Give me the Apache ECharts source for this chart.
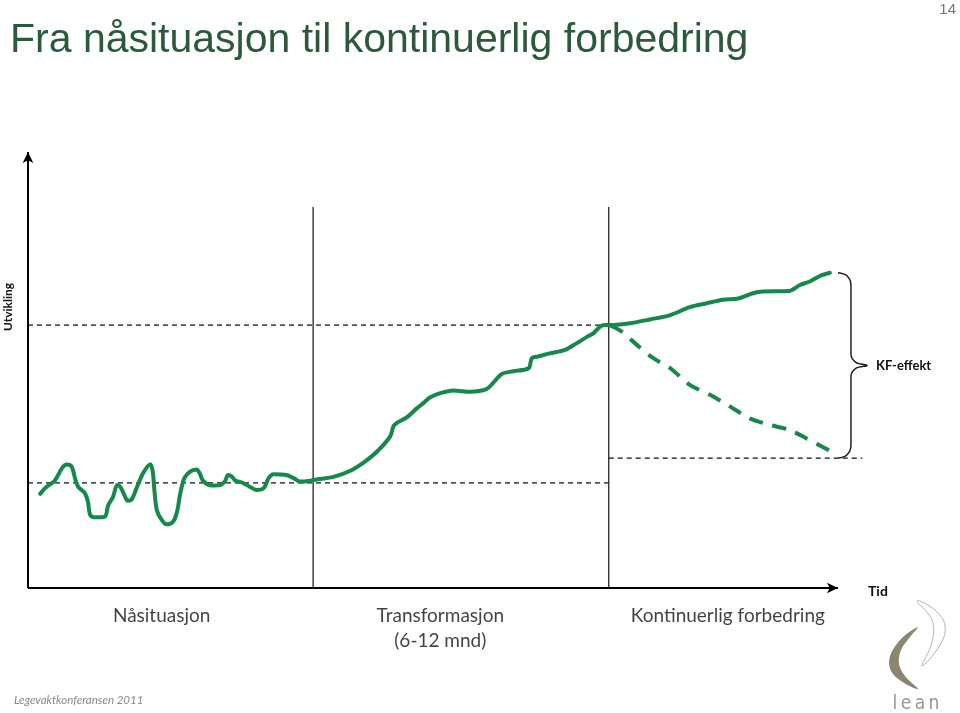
<!DOCTYPE html>
<html>
<head>
<meta charset="utf-8">
<script src="https://cdn.jsdelivr.net/npm/echarts@6/dist/echarts.min.js"></script>
<style>html,body{margin:0;padding:0;background:#fff}#c{width:960px;height:713px}</style>
</head>
<body>
<div id="c"></div>
<script>
// ---- Data (time 0..100, level 0..100) ----
const naSituasjon = [
  [1.5,21.6],[2.3,23.2],[3.3,24.6],[4.2,27.5],[4.8,28.3],[5.4,27.8],[5.8,25.2],[6.2,23.2],
  [7.0,21.8],[7.4,19.8],[7.7,16.7],[8.5,16.2],[9.5,16.4],[9.9,19.0],[10.5,20.9],[11.0,23.6],
  [11.4,23.2],[11.9,21.3],[12.3,20.0],[12.8,20.3],[13.4,22.9],[14.2,26.3],[15.1,28.4],[15.4,26.7],
  [15.6,22.5],[15.9,17.9],[16.5,15.6],[17.1,14.6],[17.9,15.2],[18.4,17.5],[18.8,21.7],[19.3,25.2],
  [20.0,26.7],[20.8,27.2],[21.2,26.3],[21.6,24.6],[22.7,23.5],[23.7,23.6],[24.3,24.4],[24.7,25.9],
  [25.2,25.5],[25.6,24.6],[26.4,24.2],[27.4,23.2],[28.2,22.5],[29.1,22.9],[29.7,25.2],[30.3,26.1],
  [31.9,25.9],[32.8,25.2],[33.6,24.4],[34.8,24.6],[36.0,25.0]
];
const transformasjon = [
  [36.0,25.0],[37.7,25.5],[39.8,26.9],[41.6,29.0],[43.1,31.3],[44.7,34.7],[45.1,37.0],[45.5,37.8],
  [46.8,39.2],[48.0,41.2],[48.8,42.4],[49.6,43.7],[50.9,44.7],[52.5,45.3],[54.6,45.0],[56.6,45.6],
  [57.4,47.0],[58.5,49.1],[59.9,49.7],[61.8,50.4],[62.2,52.7],[63.0,53.1],[64.4,53.8],[66.3,54.6],
  [67.7,56.1],[69.0,57.6],[69.8,58.4],[70.6,59.9],[71.2,60.3],[72.1,60.3]
];
const kontinuerlig = [
  [71.9,60.2],[74.3,60.7],[76.8,61.6],[79.3,62.6],[81.7,64.4],[83.8,65.3],[85.8,66.1],[87.7,66.4],
  [89.5,67.6],[90.8,68.0],[93.9,68.1],[95.3,69.5],[96.5,70.3],[97.8,71.6],[99.0,72.3]
];
const utenKF = [
  [71.9,60.2],[73.3,58.8],[75.2,55.7],[77.2,52.7],[79.3,50.4],[81.7,46.6],[84.2,44.3],[86.7,41.6],
  [89.1,38.9],[91.6,37.4],[94.1,36.2],[96.1,34.3],[99.0,31.5]
];
const levelTop = 60.3;      // upper dashed reference
const levelStart = 24.1;    // starting level
const levelNoKF = 29.8;     // level without KF
const phaseBounds = [35.2, 71.7];
const phaseLineTop = 87.4;
const phaseLabels = ['Nåsituasjon', 'Transformasjon\n(6-12 mnd)', 'Kontinuerlig forbedring'];
const phaseCenters = [16.5, 50.9, 86.4];
const axisEnd = 100;
const braceTop = 72.3, braceBottom = 29.8, braceX = 100;

const GREEN = '#138a4a';
const chart = echarts.init(document.getElementById('c'), null, {renderer: 'canvas'});

function refLine(data, type) {
  return {type: 'line', data: data, symbol: 'none', silent: true, z: 1,
    lineStyle: {color: '#111', width: 1.2, type: type}};
}
const mid = (braceTop + braceBottom) / 2;
const brace = [
  [braceX, braceTop], [braceX + 1.1, braceTop - 0.7], [braceX + 1.6, braceTop - 2.8],
  [braceX + 1.6, mid + 2.6], [braceX + 2.2, mid + 0.7], [braceX + 3.6, mid],
  [braceX + 2.2, mid - 0.7], [braceX + 1.6, mid - 2.6],
  [braceX + 1.6, braceBottom + 2.8], [braceX + 1.1, braceBottom + 0.7], [braceX, braceBottom]
];

const option = {
  animation: false,
  backgroundColor: '#fff',
  grid: {left: 28, top: 152, right: 89.6, bottom: 125, containLabel: false},
  xAxis: {type: 'value', min: 0, max: 104, axisLine: {show: false},
    axisTick: {show: false}, axisLabel: {show: false}, splitLine: {show: false}},
  yAxis: {type: 'value', min: 0, max: 100, axisLine: {show: false},
    axisTick: {show: false}, axisLabel: {show: false}, splitLine: {show: false}},
  series: [
    {type: 'line', data: [], symbol: 'none', silent: true,
      markLine: {silent: true, symbol: ['none', 'arrow'], symbolSize: [8, 11], animation: false,
        label: {show: false},
        lineStyle: {color: '#000', width: 2, type: 'solid'},
        data: [
          [{coord: [0, 0]}, {coord: [axisEnd, 0]}],
          [{coord: [0, 0]}, {coord: [0, 100]}]
        ]}},
    refLine([[0, levelTop], [phaseBounds[1], levelTop]], [5, 4]),
    refLine([[0, levelStart], [phaseBounds[1], levelStart]], [5, 4]),
    refLine([[phaseBounds[1], levelNoKF], [103, levelNoKF]], [5, 4]),
    refLine([[phaseBounds[0], 0], [phaseBounds[0], phaseLineTop]], 'solid'),
    refLine([[phaseBounds[1], 0], [phaseBounds[1], phaseLineTop]], 'solid'),
    {type: 'line', data: brace, symbol: 'none', smooth: 0.4, silent: true,
      lineStyle: {color: '#222', width: 1.5}},
    {type: 'line', name: 'Nåsituasjon', data: naSituasjon, symbol: 'none', smooth: 0.3, z: 3,
      lineStyle: {color: GREEN, width: 4, cap: 'round', join: 'round'}},
    {type: 'line', name: 'Transformasjon', data: transformasjon, symbol: 'none', smooth: 0.3, z: 3,
      lineStyle: {color: GREEN, width: 4, cap: 'round', join: 'round'}},
    {type: 'line', name: 'Kontinuerlig', data: kontinuerlig, symbol: 'none', smooth: 0.3, z: 3,
      lineStyle: {color: GREEN, width: 4, cap: 'round', join: 'round'}},
    {type: 'line', name: 'Uten KF', data: utenKF, symbol: 'none', smooth: 0.3, z: 3,
      lineStyle: {color: GREEN, width: 4, type: [14, 10], cap: 'butt'}},
    {type: 'scatter', symbolSize: 0, silent: true, clip: false,
      data: phaseCenters.map((c, i) => ({value: [c, -3.5], name: phaseLabels[i]})),
      label: {show: true, position: 'bottom', distance: 0, formatter: p => p.name,
        fontFamily: 'Lato', fontSize: 19, lineHeight: 25, color: '#111', align: 'center'}}
  ],
  graphic: [
    {type: 'text', x: 10, y: 20, style: {text: 'Fra nåsituasjon til kontinuerlig forbedring',
      font: '41px "Liberation Sans", Arial, sans-serif', fill: '#2b5a3a', verticalAlign: 'top'}},
    {type: 'text', x: 956, y: 10, style: {text: '14', font: '15px "Liberation Sans", Arial', fill: '#777', align: 'right', verticalAlign: 'middle'}},
    {type: 'text', x: 8, y: 307, rotation: Math.PI / 2,
      style: {text: 'Utvikling', font: 'bold 12px Lato', fill: '#111', align: 'center', verticalAlign: 'middle'}},
    {type: 'text', x: 876, y: 366, style: {text: 'KF-effekt', font: 'bold 13px Lato', fill: '#111', verticalAlign: 'middle'}},
    {type: 'text', x: 868, y: 591, style: {text: 'Tid', font: 'bold 14px Lato', fill: '#111', verticalAlign: 'middle'}},
    {type: 'text', x: 14, y: 700, style: {text: 'Legevaktkonferansen 2011', font: 'italic 11.5px Lato', fill: '#888', verticalAlign: 'middle'}},
    {type: 'polygon', shape: {smooth: 0.35, points: [[918,627],[902,638],[890,656],[891,671],[904,683],[918,689],[905,676],[899,664],[901,650],[910,637]]},
      style: {fill: '#8c8570'}},
    {type: 'polygon', shape: {smooth: 0.4, points: [[917,601],[935,610],[945,626],[940,645],[922,666],[932,642],[932,620]]},
      style: {fill: 'none', stroke: '#aaa', lineWidth: 0.9}},
    {type: 'text', x: 916, y: 704, style: {text: 'l\u2009e\u2009a\u2009n', font: '19px "Liberation Sans Narrow", "DejaVu Sans Condensed", sans-serif', fill: '#9c968c', align: 'center', verticalAlign: 'middle'}}
  ]
};
chart.setOption(option);
</script>
</body>
</html>
